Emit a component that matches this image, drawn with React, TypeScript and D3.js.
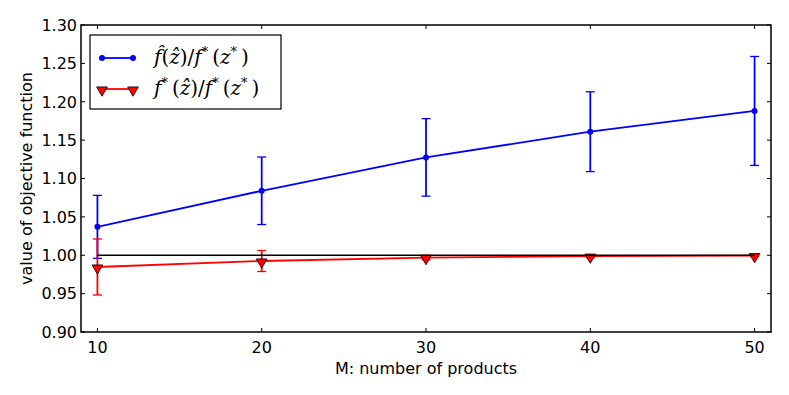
import React, {useRef, useEffect} from 'react'
import * as d3 from "d3";

const products = [10, 20, 30, 40, 50];
const approxRatio = [1.037, 1.084, 1.1275, 1.161, 1.188];
const approxErr = [0.041, 0.044, 0.0505, 0.052, 0.071];
const trueRatio = [0.9847, 0.9925, 0.997, 0.9988, 0.9995];
const trueErr = [0.0365, 0.0137, 0.003, 0.002, 0.0012];
const xTicks = [10, 20, 30, 40, 50];
const yTicks = [0.90, 0.95, 1.00, 1.05, 1.10, 1.15, 1.20, 1.25, 1.30];

const App = () => {
  const svgRef = useRef<SVGSVGElement>(null);

  useEffect(() => {
    const width = 789;
    const height = 395;
    const marginLeft = 81;
    const marginRight = 18;
    const marginTop = 25;
    const marginBottom = 63;

    const svg = d3.select(svgRef.current);
    svg.selectAll("*").remove();

    svg.append("rect").attr("width", width).attr("height", height).attr("fill", "white");

    const x = d3.scaleLinear().domain([9, 51]).range([marginLeft, width - marginRight]);
    const y = d3.scaleLinear().domain([0.9, 1.3]).range([height - marginBottom, marginTop]);

    const font = "DejaVu Sans, sans-serif";

    // series with error bars
    const drawSeries = (vals: number[], errs: number[], color: string) => {
      const g = svg.append("g");
      const line = d3.line<number>().x((d, i) => x(products[i])).y(d => y(d));
      g.append("path").attr("d", line(vals)).attr("fill", "none")
        .attr("stroke", color).attr("stroke-width", 1.8);
      products.forEach((p, i) => {
        const px = x(p);
        const y0 = y(vals[i] - errs[i]);
        const y1 = y(vals[i] + errs[i]);
        g.append("line").attr("x1", px).attr("x2", px).attr("y1", y0).attr("y2", y1)
          .attr("stroke", color).attr("stroke-width", 1.8);
        [y0, y1].forEach(yy => {
          g.append("line").attr("x1", px - 4.5).attr("x2", px + 4.5).attr("y1", yy).attr("y2", yy)
            .attr("stroke", color).attr("stroke-width", 1.3);
        });
      });
      return g;
    };

    const gBlue = drawSeries(approxRatio, approxErr, "#0000ff");
    gBlue.selectAll("circle.m").data(approxRatio).join("circle")
      .attr("cx", (d, i) => x(products[i])).attr("cy", d => y(d)).attr("r", 3)
      .attr("fill", "#0000ff");

    const tri = d3.symbol().type(d3.symbolTriangle).size(50);
    const gRed = drawSeries(trueRatio, trueErr, "#ff0000");
    gRed.selectAll("path.m").data(trueRatio).join("path")
      .attr("class", "m")
      .attr("d", tri)
      .attr("transform", (d, i) => `translate(${x(products[i])},${y(d) + 1}) rotate(180)`)
      .attr("fill", "#ff0000").attr("stroke", "black").attr("stroke-width", 0.8);

    // reference line at 1
    svg.append("line").attr("x1", x(10)).attr("x2", x(50)).attr("y1", y(1)).attr("y2", y(1))
      .attr("stroke", "black").attr("stroke-width", 1.6);

    // frame and inward ticks on all sides
    const left = x.range()[0], right = x.range()[1];
    const top = y.range()[1], bottom = y.range()[0];
    const tl = 4;
    xTicks.forEach(t => {
      svg.append("line").attr("x1", x(t)).attr("x2", x(t)).attr("y1", bottom).attr("y2", bottom - tl).attr("stroke", "black");
      svg.append("line").attr("x1", x(t)).attr("x2", x(t)).attr("y1", top).attr("y2", top + tl).attr("stroke", "black");
      svg.append("text").attr("x", x(t)).attr("y", bottom + 21).attr("text-anchor", "middle")
        .attr("font-family", font).attr("font-size", 16).text(t);
    });
    yTicks.forEach(t => {
      svg.append("line").attr("x1", left).attr("x2", left + tl).attr("y1", y(t)).attr("y2", y(t)).attr("stroke", "black");
      svg.append("line").attr("x1", right).attr("x2", right - tl).attr("y1", y(t)).attr("y2", y(t)).attr("stroke", "black");
      svg.append("text").attr("x", left - 4).attr("y", y(t)).attr("dy", "0.36em").attr("text-anchor", "end")
        .attr("font-family", font).attr("font-size", 16).text(t.toFixed(2));
    });
    svg.append("rect").attr("x", left).attr("y", top).attr("width", right - left).attr("height", bottom - top)
      .attr("fill", "none").attr("stroke", "black").attr("stroke-width", 1.5);

    // axis labels
    svg.append("text").attr("x", (left + right) / 2).attr("y", 374).attr("text-anchor", "middle")
      .attr("font-family", font).attr("font-size", 16).text("M: number of products");
    svg.append("text").attr("transform", `translate(32,${(top + bottom) / 2}) rotate(-90)`)
      .attr("text-anchor", "middle").attr("font-family", font).attr("font-size", 16)
      .text("value of objective function");

    // legend
    const lg = svg.append("g");
    lg.append("rect").attr("x", 90).attr("y", 35).attr("width", 191).attr("height", 74)
      .attr("fill", "white").attr("stroke", "black").attr("stroke-width", 1.2);
    const rows = [58, 89];
    lg.append("line").attr("x1", 102).attr("x2", 133).attr("y1", rows[0]).attr("y2", rows[0])
      .attr("stroke", "#0000ff").attr("stroke-width", 1.8);
    [102, 133].forEach(px => lg.append("circle").attr("cx", px).attr("cy", rows[0]).attr("r", 3).attr("fill", "#0000ff"));
    lg.append("line").attr("x1", 102).attr("x2", 133).attr("y1", rows[1]).attr("y2", rows[1])
      .attr("stroke", "#ff0000").attr("stroke-width", 1.8);
    [102, 133].forEach(px => lg.append("path").attr("d", tri)
      .attr("transform", `translate(${px},${rows[1] + 1}) rotate(180)`)
      .attr("fill", "#ff0000").attr("stroke", "black").attr("stroke-width", 0.8));

    const serif = "DejaVu Serif, Liberation Serif, serif";
    const addMath = (yy: number, hatF: boolean) => {
      const t = lg.append("text").attr("x", 154).attr("y", yy + 6).attr("font-family", serif)
        .attr("font-size", 20);
      let raised = false;
      const part = (s: string, italic: boolean, sup: boolean) => {
        const ts = t.append("tspan").text(s);
        if (italic) ts.attr("font-style", "italic");
        if (sup) ts.attr("font-size", 13);
        if (sup && !raised) { ts.attr("dy", -8); raised = true; }
        if (!sup && raised) { ts.attr("dy", 8); raised = false; }
      };
      if (hatF) { part("f\u0302", true, false); } else { part("f", true, false); part("*", false, true); part("\u2009", false, false); }
      part("(", false, false); part("z\u0302", true, false); part(")/", false, false);
      part("f", true, false); part("*", false, true); part("\u2009(", false, false);
      part("z", true, false); part("*", false, true); part("\u2009)", false, false);
    };
    addMath(rows[0], true);
    addMath(rows[1], false);
  }, []);

  return (
    <svg ref={svgRef} width={789} height={395} style={{position: "absolute", left: 0, top: 0}} />
  );
}

export default App;
